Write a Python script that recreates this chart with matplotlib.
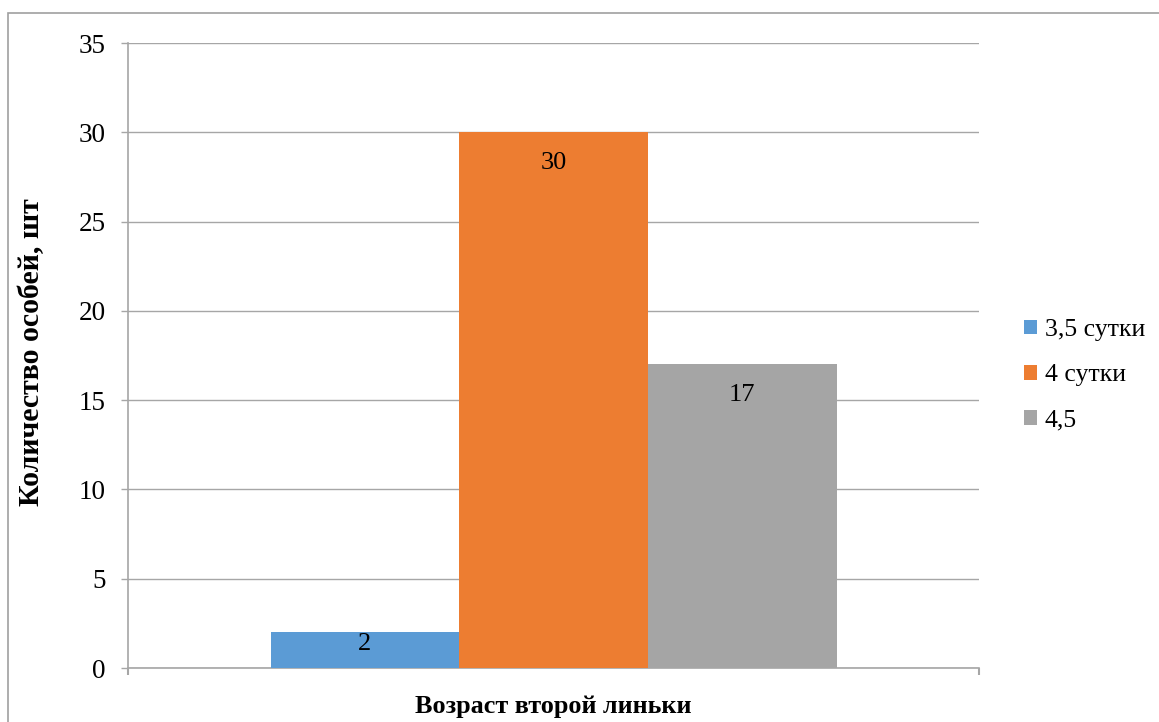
import matplotlib.pyplot as plt
from matplotlib.patches import Rectangle

plt.rcParams['font.family'] = ['Liberation Serif', 'DejaVu Serif']

## Data
series_names = ["3,5 сутки", "4 сутки", "4,5"]
counts = [2, 30, 17]
colors = ["#5B9BD5", "#ED7D31", "#A5A5A5"]
yticks = [0, 5, 10, 15, 20, 25, 30, 35]

W, H = 1159, 722
fig = plt.figure(figsize=(W/100, H/100), dpi=100, facecolor="white")

# chart area frame (runs off the right and bottom edges)
fig.patches.append(Rectangle((8/W, -0.1), 1.2, 1 - 13/H + 0.1, transform=fig.transFigure,
                             fill=False, edgecolor="#a0a0a0", lw=1.2))

ax = fig.add_axes([128/W, 1 - 668/H, 851/W, 625/H])

bw = 566/851/3
grey = "#a6a6a6"
for i, (name, v, c) in enumerate(zip(series_names, counts, colors)):
  x = (i - 1)*bw
  ax.bar(x, v, width=bw, color=c, label=name, zorder=3)
  # value label sits inside the top of the bar, pushed up when the bar is short
  off = -14 if v >= 5 else -0.5
  ax.annotate(str(v), (x, v), xytext=(0, off), textcoords="offset points",
              ha="center", va="top", fontsize=19, zorder=4)

ax.set_xlim(-0.5, 0.5)
ax.set_ylim(0, 35)
ax.set_yticks(yticks)
ax.set_xticks([-0.5, 0.5])
ax.set_xticklabels([])
ax.tick_params(axis="y", labelsize=19.5, length=5, color=grey, width=1, pad=11)
ax.tick_params(axis="x", length=5, color=grey, width=1.5)
ax.yaxis.grid(True, color=grey, lw=1, zorder=0)
for s in ["top", "right"]:
  ax.spines[s].set_visible(False)
for s in ["left", "bottom"]:
  ax.spines[s].set_color(grey)
  ax.spines[s].set_linewidth(1.2)

ax.set_xlabel("Возраст второй линьки", fontsize=18.8, fontweight="bold", labelpad=11)
fig.text(32/W, 1 - 352/H, "Количество особей, шт", rotation=90, fontsize=21.5,
         fontweight="bold", ha="center", va="center")

ax.legend(loc="upper left", bbox_to_anchor=(1014/W, 1 - 309/H), bbox_transform=fig.transFigure,
          frameon=False, fontsize=18.5, handlelength=0.5, handleheight=0.5,
          handletextpad=0.3, labelspacing=0.9, borderaxespad=0)

plt.savefig("out.png", dpi=100)
